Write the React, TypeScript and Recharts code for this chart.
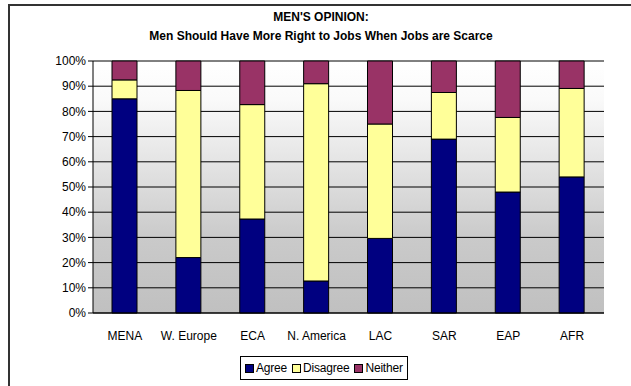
import React from 'react'
import {
  BarChart,
  Bar,
  XAxis,
  YAxis,
  CartesianGrid,
  Legend,
  ReferenceLine,
} from 'recharts'

const regions = ['MENA', 'W. Europe', 'ECA', 'N. America', 'LAC', 'SAR', 'EAP', 'AFR']
const agree = [85, 22, 37.3, 12.7, 29.6, 69, 48, 54]
const disagree = [7.5, 66.3, 45.4, 78.3, 45.4, 18.5, 29.6, 35.1]
const neither = [7.5, 11.7, 17.3, 9, 25, 12.5, 22.4, 10.9]
const yTicks = [0, 10, 20, 30, 40, 50, 60, 70, 80, 90, 100]
const bandTicks = [0, 1, 2, 3, 4, 5, 6, 7, 8]

const series = [
  { key: 'agree', name: 'Agree', color: '#000080' },
  { key: 'disagree', name: 'Disagree', color: '#ffff99' },
  { key: 'neither', name: 'Neither', color: '#993366' },
]

const data = regions.map((region, i) => ({
  region,
  agree: agree[i],
  disagree: disagree[i],
  neither: neither[i],
}))

const font = "'Liberation Sans', Arial, sans-serif"

function LegendBox() {
  return (
    <div
      style={{
        display: 'inline-flex',
        alignItems: 'center',
        border: '1px solid #000',
        background: '#fff',
        padding: '4px 4px',
        fontFamily: font,
        fontSize: 12,
        letterSpacing: -0.2,
        color: '#000',
        gap: 5,
      }}
    >
      {series.map((s) => (
        <span key={s.key} style={{ display: 'inline-flex', alignItems: 'center', gap: 2 }}>
          <span style={{ width: 7, height: 7, background: s.color, border: '1px solid #000', display: 'inline-block' }} />
          {s.name}
        </span>
      ))}
    </div>
  )
}

export default function App() {
  return (
    <div style={{ position: 'relative', width: 631, height: 386, overflow: 'hidden', background: '#fff' }}>
      <style>{'body{margin:0;overflow:hidden}'}</style>
      <div
        style={{
          position: 'absolute',
          left: 8,
          top: 4,
          width: 800,
          height: 600,
          borderTop: '2px solid #333',
          borderLeft: '2px solid #333',
        }}
      />
      <div
        style={{
          position: 'absolute',
          left: 0,
          top: 8,
          width: 642,
          textAlign: 'center',
          fontFamily: font,
          fontWeight: 'bold',
          fontSize: 12,
          lineHeight: '19px',
          color: '#000',
        }}
      >
        <div>MEN'S OPINION:</div>
        <div>Men Should Have More Right to Jobs When Jobs are Scarce</div>
      </div>
      <BarChart
        width={631}
        height={386}
        data={data}
        margin={{ top: 61, right: 27, bottom: 19, left: 43 }}
        style={{ position: 'absolute', left: 0, top: 0, fontFamily: font }}
      >
        <defs>
          <linearGradient id="plotBg" x1="0" y1="0" x2="0" y2="1">
            <stop offset="0" stopColor="#ffffff" />
            <stop offset="0.15" stopColor="#fafafa" />
            <stop offset="0.7" stopColor="#cacaca" />
            <stop offset="1" stopColor="#c0c0c0" />
          </linearGradient>
        </defs>
        <CartesianGrid vertical={false} stroke="#000" fill="url(#plotBg)" fillOpacity={1} />
        <XAxis
          xAxisId="sep"
          type="number"
          domain={[0, 8]}
          ticks={bandTicks}
          tick={false}
          tickSize={4}
          tickLine={{ stroke: '#000' }}
          axisLine={false}
          height={0}
        />
        <XAxis
          dataKey="region"
          tickLine={false}
          axisLine={{ stroke: '#000' }}
          tick={{ fill: '#000', fontSize: 12 }}
          tickMargin={12}
          height={30}
        />
        <YAxis
          domain={[0, 100]}
          ticks={yTicks}
          tickFormatter={(v) => `${v}%`}
          tick={{ fill: '#000', fontSize: 12 }}
          tickLine={{ stroke: '#000' }}
          tickSize={5}
          axisLine={{ stroke: '#000' }}
          width={50}
          interval={0}
        />
        <ReferenceLine xAxisId="sep" x={8} stroke="#808080" />
        {series.map((s) => (
          <Bar
            key={s.key}
            dataKey={s.key}
            name={s.name}
            stackId="a"
            fill={s.color}
            stroke="#000"
            strokeWidth={1}
            barSize={25}
            isAnimationActive={false}
          />
        ))}
        <Legend
          content={() => <LegendBox />}
          wrapperStyle={{ left: 240, top: 356, bottom: 'auto', width: 'auto' }}
        />
      </BarChart>
    </div>
  )
}
